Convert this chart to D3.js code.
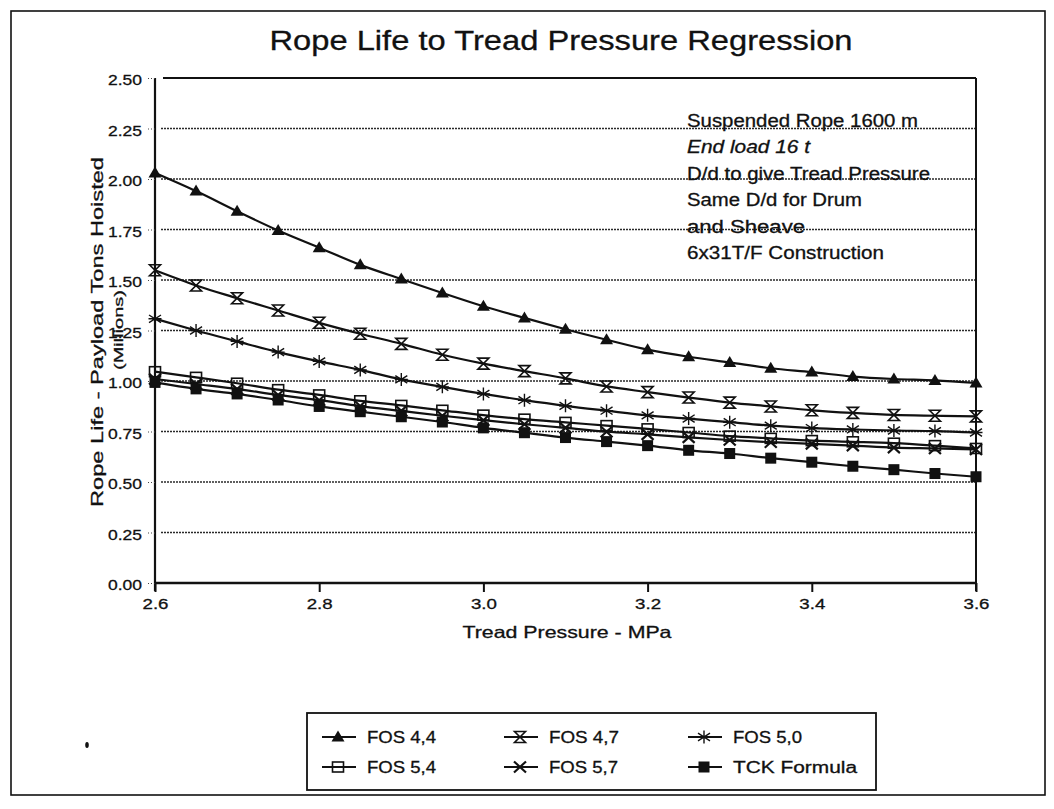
<!DOCTYPE html>
<html>
<head>
<meta charset="utf-8">
<script src="https://cdn.jsdelivr.net/npm/d3@7"></script>
<style>
  body { margin: 0; background: #fff; }
  svg { display: block; }
  text { font-family: "Liberation Sans", Arial, Helvetica, sans-serif; fill: #111; stroke: #111; stroke-width: 0.3px; }
</style>
</head>
<body>
<svg id="chart" width="1054" height="809"></svg>
<script>
// Tread pressure (MPa) at which each regression curve is evaluated
const pressure = [2.60, 2.65, 2.70, 2.75, 2.80, 2.85, 2.90, 2.95, 3.00, 3.05, 3.10,
                  3.15, 3.20, 3.25, 3.30, 3.35, 3.40, 3.45, 3.50, 3.55, 3.60];

// Rope life, payload tons hoisted (millions), per factor of safety
const fos44 = [2.03, 1.94, 1.84, 1.745, 1.66, 1.575, 1.505, 1.436, 1.37, 1.312, 1.256,
               1.204, 1.155, 1.12, 1.092, 1.063, 1.044, 1.022, 1.01, 1.003, 0.99];
const fos47 = [1.548, 1.473, 1.41, 1.349, 1.288, 1.234, 1.184, 1.13, 1.086, 1.049, 1.013,
               0.973, 0.945, 0.918, 0.893, 0.874, 0.855, 0.842, 0.832, 0.828, 0.825];
const fos50 = [1.308, 1.25, 1.196, 1.143, 1.097, 1.055, 1.008, 0.971, 0.936, 0.905, 0.877,
               0.853, 0.83, 0.814, 0.796, 0.779, 0.767, 0.76, 0.755, 0.752, 0.745];
const fos54 = [1.046, 1.018, 0.989, 0.957, 0.931, 0.902, 0.879, 0.855, 0.831, 0.811, 0.795,
               0.779, 0.763, 0.745, 0.727, 0.716, 0.705, 0.699, 0.692, 0.68, 0.666];
const fos57 = [1.01, 0.985, 0.96, 0.931, 0.905, 0.876, 0.852, 0.828, 0.806, 0.786, 0.768,
               0.749, 0.736, 0.721, 0.708, 0.697, 0.689, 0.68, 0.67, 0.666, 0.661];
const tck   = [0.993, 0.961, 0.936, 0.906, 0.874, 0.848, 0.823, 0.797, 0.768, 0.744, 0.72,
               0.7, 0.68, 0.657, 0.641, 0.618, 0.598, 0.578, 0.561, 0.542, 0.526];

const seriesNames = ["FOS 4,4", "FOS 4,7", "FOS 5,0", "FOS 5,4", "FOS 5,7", "TCK Formula"];
const seriesValues = [fos44, fos47, fos50, fos54, fos57, tck];
const seriesMarkers = ["triangle", "hourglass", "asterisk", "openSquare", "cross", "filledSquare"];

const xTicks = [2.6, 2.8, 3.0, 3.2, 3.4, 3.6];
const yTicks = [0, 0.25, 0.5, 0.75, 1.0, 1.25, 1.5, 1.75, 2.0, 2.25, 2.5];

const notes = ["Suspended Rope 1600 m", "End load 16 t", "D/d to give Tread Pressure",
               "Same D/d for Drum", "and Sheave", "6x31T/F Construction"];

const svg = d3.select("#chart");

// plot frame
const plotLeft = 155, plotRight = 976, plotTop = 78, plotBottom = 583;
const x = d3.scaleLinear().domain([2.6, 3.6]).range([plotLeft, plotRight]);
const y = d3.scaleLinear().domain([0, 2.5]).range([plotBottom, plotTop]);

// outer border of the figure
svg.append("rect").attr("x", 11).attr("y", 11).attr("width", 1034).attr("height", 784)
  .attr("fill", "none").attr("stroke", "#111").attr("stroke-width", 1.6);

// helper for text that is stretched to a given length
function label(parent, px, py, str, size, len, anchor, extra) {
  const t = parent.append("text").attr("x", px).attr("y", py)
    .attr("font-size", size).attr("text-anchor", anchor || "start").text(str);
  if (len) t.attr("textLength", len).attr("lengthAdjust", "spacingAndGlyphs");
  if (extra) extra(t);
  return t;
}

// title
label(svg, 561, 50, "Rope Life to Tread Pressure Regression", 27, 583, "middle");

// dotted horizontal gridlines
svg.append("g").selectAll("line")
  .data(yTicks.filter(v => v > 0 && v < 2.5))
  .join("line")
  .attr("x1", plotLeft + 6).attr("x2", plotRight - 1)
  .attr("y1", d => y(d)).attr("y2", d => y(d))
  .attr("stroke", "#2a2a2a").attr("stroke-width", 1.4).attr("stroke-dasharray", "2,1");

// top and right frame lines
svg.append("line").attr("x1", plotLeft + 8).attr("x2", plotRight).attr("y1", plotTop).attr("y2", plotTop)
  .attr("stroke", "#111").attr("stroke-width", 2);
svg.append("line").attr("x1", plotRight).attr("x2", plotRight).attr("y1", plotTop).attr("y2", plotBottom + 8)
  .attr("stroke", "#111").attr("stroke-width", 2);

// y axis
const yAxis = svg.append("g").attr("transform", `translate(${plotLeft},0)`)
  .call(d3.axisLeft(y).tickValues(yTicks).tickFormat(d3.format(".2f")).tickSize(9).tickPadding(4));
yAxis.select(".domain").attr("stroke", "#111").attr("stroke-width", 2.2)
  .attr("d", `M0,${plotTop}V${plotBottom + 8}`);
yAxis.selectAll(".tick line").attr("stroke", "#444").attr("stroke-dasharray", "1,2").attr("stroke-width", 1.2);
yAxis.selectAll(".tick text").attr("font-size", 15.5).attr("font-family", null)
  .attr("x", -13).attr("dy", "0.32em").attr("y", 2)
  .attr("textLength", 34).attr("lengthAdjust", "spacingAndGlyphs").style("fill", "#111");

// x axis
const xAxis = svg.append("g").attr("transform", `translate(0,${plotBottom})`)
  .call(d3.axisBottom(x).tickValues(xTicks).tickFormat(d3.format(".1f")).tickSize(9).tickPadding(4));
xAxis.select(".domain").attr("stroke", "#111").attr("stroke-width", 2.4)
  .attr("d", `M${plotLeft},0H${plotRight}`);
xAxis.selectAll(".tick line").attr("stroke", "#111").attr("stroke-width", 2);
xAxis.selectAll(".tick text").attr("font-size", 15.5).attr("font-family", null)
  .attr("y", 26).attr("dy", 0)
  .attr("textLength", 26).attr("lengthAdjust", "spacingAndGlyphs").style("fill", "#111");

// axis titles
label(svg, 567, 638, "Tread Pressure - MPa", 16.5, 209, "middle");
label(svg, 0, 0, "Rope Life - Payload Tons Hoisted", 17, 350, "middle",
  t => t.attr("transform", "translate(102.5,332) rotate(-90)"));
label(svg, 0, 0, "(Millions)", 13.5, 80, "middle",
  t => t.attr("transform", "translate(123,330) rotate(-90)"));

// notes block
const noteWidths = [231, 123, 243, 175, 118, 197];
notes.forEach((s, i) => {
  label(svg, 687, 127 + 26.4 * i, s, 17.5, noteWidths[i], "start",
    t => { if (i === 1) t.attr("font-style", "italic"); });
});

// marker shapes
function drawMarker(g, kind) {
  switch (kind) {
    case "triangle":
      g.append("path").attr("d", "M0,-6.5L6.5,4.5L-6.5,4.5Z").attr("fill", "#111");
      break;
    case "hourglass":
      g.append("path").attr("d", "M-5.5,-5.5H5.5L-5.5,5.5H5.5Z").attr("fill", "none")
        .attr("stroke", "#111").attr("stroke-width", 1.6);
      break;
    case "asterisk":
      g.append("path").attr("d", "M0,-6.5V6.5M-6,-3.8L6,3.8M-6,3.8L6,-3.8M-6.5,0H6.5").attr("fill", "none")
        .attr("stroke", "#111").attr("stroke-width", 1.4);
      break;
    case "openSquare":
      g.append("rect").attr("x", -5.5).attr("y", -5).attr("width", 11).attr("height", 10)
        .attr("fill", "none").attr("stroke", "#111").attr("stroke-width", 1.6);
      break;
    case "cross":
      g.append("path").attr("d", "M-6,-5.5L6,5.5M-6,5.5L6,-5.5").attr("fill", "none")
        .attr("stroke", "#111").attr("stroke-width", 2.2);
      break;
    case "filledSquare":
      g.append("rect").attr("x", -5.5).attr("y", -5.5).attr("width", 11).attr("height", 11)
        .attr("fill", "#111");
      break;
  }
}

// curves and markers
const line = d3.line().x((d, i) => x(pressure[i])).y(d => y(d)).curve(d3.curveMonotoneX);
const plot = svg.append("g");
seriesValues.forEach((vals) => {
  plot.append("path").attr("d", line(vals)).attr("fill", "none")
    .attr("stroke", "#111").attr("stroke-width", 2.2);
});
seriesValues.forEach((vals, si) => {
  vals.forEach((v, i) => {
    const g = plot.append("g").attr("transform", `translate(${x(pressure[i])},${y(v)})`);
    drawMarker(g, seriesMarkers[si]);
  });
});

// small mark left of the legend
svg.append("ellipse").attr("cx", 87).attr("cy", 745).attr("rx", 1.8).attr("ry", 3).attr("fill", "#111");

// legend
const legend = svg.append("g");
legend.append("rect").attr("x", 307).attr("y", 713).attr("width", 569).attr("height", 77)
  .attr("fill", "#fff").attr("stroke", "#111").attr("stroke-width", 1.8);
const colX = [322, 504, 688];
const rowY = [737, 767];
const legendWidths = [69, 70, 69, 69, 69, 124];
seriesNames.forEach((name, i) => {
  const cx = colX[i % 3], cy = rowY[Math.floor(i / 3)];
  legend.append("line").attr("x1", cx).attr("x2", cx + 34).attr("y1", cy).attr("y2", cy)
    .attr("stroke", "#111").attr("stroke-width", 2);
  drawMarker(legend.append("g").attr("transform", `translate(${cx + 16},${cy})`), seriesMarkers[i]);
  label(legend, cx + 45, cy + 6, name, 16, legendWidths[i], "start");
});
</script>
</body>
</html>
